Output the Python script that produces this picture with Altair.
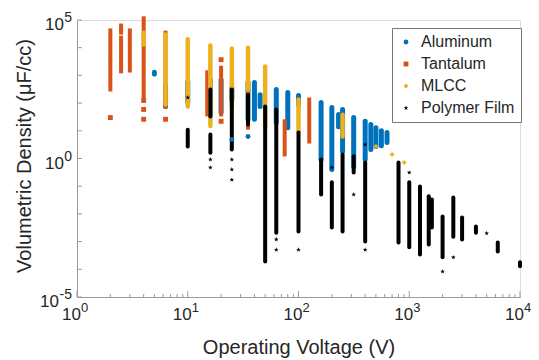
import altair as alt
import pandas as pd

SERIES = ["Aluminum", "Tantalum", "MLCC", "Polymer Film"]
COLORS = ["#0072BD", "#D95319", "#EDB120", "#000000"]
STAR = "M0,-1L0.24,-0.33L0.95,-0.31L0.38,0.12L0.59,0.81L0,0.4L-0.59,0.81L-0.38,0.12L-0.95,-0.31L-0.24,-0.33Z"
SHAPES = ["circle", "square", "diamond", STAR]

# ---- vertical clusters of points: voltage, lowest density, highest density ----
al_v  = [6.3, 10, 16, 20, 25, 35, 40, 45, 63, 80, 100, 160, 200, 230, 250, 315, 400, 450, 500, 560, 630]
al_lo = [75, 105, 39, 46, 135, 26, 26, 76, 20, 13, 89, 0.9, 0.4, 14, 1.8, 0.51, 0.92, 2.1, 2.7, 2.9, 3.8]
al_hi = [400, 600, 700, 700, 360, 550, 550, 200, 310, 240, 190, 105, 69, 39, 59, 30, 22, 17, 13, 10, 8.7]

ta_v  = [2, 2, 2.5, 2.5, 3, 4, 6.3, 15, 20, 35, 75, 125]
ta_lo = [4100, 310, 35000, 1400, 1500, 170, 75, 39, 39, 13, 1.4, 4.1]
ta_hi = [42000, 3200, 63000, 23000, 42000, 115000, 35000, 1300, 1900, 310, 22, 135]

ml_v  = [4, 6.3, 10, 16, 25, 35, 50, 100, 250]
ml_lo = [13000, 89, 75, 15, 75, 310, 14, 9.4, 6.2]
ml_hi = [35000, 30000, 20000, 12000, 9400, 10000, 2100, 135, 38]

pf_v  = [10, 16, 16, 25, 35, 50, 63, 100, 160, 200, 250, 315, 400, 800, 1000, 1250, 1500, 1600, 2000, 2500, 3000, 4000, 6300, 10000]
pf_lo = [2.7, 33, 1.6, 2.1, 17, 1.9e-4, 2.1e-3, 2.3e-3, 0.05, 3.2e-3, 2.3e-3, 0.31, 1.0e-3, 9.3e-4, 6.2e-4, 3.4e-4, 7.9e-4, 3.2e-3, 2.7e-4, 1.5e-3, 1.2e-3, 2.1e-3, 4.4e-4, 1.3e-4]
pf_hi = [11, 310, 7.4, 310, 200, 75, 59, 8.7, 0.92, 0.14, 1.4, 1.2, 0.72, 0.72, 0.14, 0.098, 0.043, 0.033, 8.1e-3, 0.039, 7.4e-3, 3.5e-3, 9.3e-4, 1.8e-4]

# ---- isolated points ----
al_pv = [5, 5, 25, 35]
al_pd = [1100, 1300, 4.9, 6.2]
ta_pv = [2, 4, 4, 4, 6.3, 20, 20]
ta_pd = [30, 124, 59, 26, 26, 3700, 22]
ml_pv = [500, 700, 900]
ml_pd = [2.7, 1.4, 0.72]
pf_pv = [10, 16, 16, 25, 25, 25, 63, 63, 100, 200, 315, 400, 400, 1000, 2000, 2500, 5000]
pf_pd = [160, 0.92, 0.47, 0.92, 0.40, 0.17, 1.2e-3, 5.1e-4, 5.1e-4, 0.47, 0.05, 3.2, 5.1e-4, 0.31, 8.3e-5, 2.7e-4, 2.0e-3]

# ---- axes ----
X_MAJOR = [1, 10, 100, 1000, 10000]
X_EXP = ["0", "1", "2", "3", "4"]
X_MINOR = [m * 10 ** e for e in range(4) for m in range(2, 10)]
Y_MAJOR = [10.0 ** e for e in range(-5, 6)]
Y_LABEL_VALUES = [1e-5, 1, 1e5]
Y_EXP = ["-5", "0", "5"]

W, H = 443, 277
FONT = "Liberation Sans"
AXC = "#9a9a9a"
TXT = "#262626"

xs = alt.Scale(type="log", domain=[1, 1e4])
ys = alt.Scale(type="log", domain=[1e-5, 1e5])

xax = alt.Axis(values=X_MAJOR, labels=False, ticks=False, grid=False,
               domainColor=AXC,
               title="Operating Voltage (V)", titleFont=FONT, titleFontSize=20,
               titleFontWeight="normal", titleColor=TXT, titleY=56,
               titleBaseline="alphabetic")
yax = alt.Axis(values=Y_LABEL_VALUES, labels=False, ticks=False, grid=False,
               domainColor=AXC,
               title="Volumetric Density (μF/cc)", titleFont=FONT, titleFontSize=20,
               titleFontWeight="normal", titleColor=TXT, titleX=-47, titleY=H / 2 - 3,
               titleAngle=270, titleAlign="center", titleBaseline="alphabetic")


def X(f="v"):
    return alt.X(f"{f}:Q", scale=xs, axis=xax)


def Y(f="d"):
    return alt.Y(f"{f}:Q", scale=ys, axis=yax)


def strips(v, lo, hi):
    return pd.DataFrame({"v": v, "d": lo, "d2": hi})


layers = []
# tick marks (inward)
layers.append(alt.Chart(pd.DataFrame({"v": X_MAJOR})).mark_rule(color=AXC, strokeWidth=1)
              .encode(x=X(), y=alt.value(H), y2=alt.value(H - 6)))
layers.append(alt.Chart(pd.DataFrame({"v": X_MINOR})).mark_rule(color=AXC, strokeWidth=1)
              .encode(x=X(), y=alt.value(H), y2=alt.value(H - 3)))
layers.append(alt.Chart(pd.DataFrame({"d": Y_MAJOR})).mark_rule(color=AXC, strokeWidth=1)
              .encode(y=Y(), x=alt.value(0), x2=alt.value(5)))

# tick labels: "10" with a raised exponent
xl = pd.DataFrame({"v": X_MAJOR, "e": X_EXP, "b": ["10"] * len(X_MAJOR)})
layers.append(alt.Chart(xl).mark_text(font=FONT, fontSize=17, color=TXT, align="right",
                                      baseline="alphabetic", dx=4)
              .encode(x=X(), y=alt.value(H + 23), text="b:N"))
layers.append(alt.Chart(xl).mark_text(font=FONT, fontSize=13, color=TXT, align="left",
                                      baseline="alphabetic", dx=4)
              .encode(x=X(), y=alt.value(H + 15), text="e:N"))

yl = pd.DataFrame({"d": Y_LABEL_VALUES, "e": Y_EXP, "b": ["10"] * len(Y_LABEL_VALUES)})
layers.append(alt.Chart(yl).mark_text(font=FONT, fontSize=14, color=TXT, align="right",
                                      baseline="alphabetic", dy=2)
              .encode(y=Y(), x=alt.value(-5), text="e:N"))
layers.append(alt.Chart(yl).transform_filter("length(datum.e) == 1")
              .mark_text(font=FONT, fontSize=17, color=TXT, align="right",
                         baseline="alphabetic", dy=10)
              .encode(y=Y(), x=alt.value(-13), text="b:N"))
layers.append(alt.Chart(yl).transform_filter("length(datum.e) > 1")
              .mark_text(font=FONT, fontSize=17, color=TXT, align="right",
                         baseline="alphabetic", dy=10)
              .encode(y=Y(), x=alt.value(-18), text="b:N"))

strip_specs = [
    (al_v, al_lo, al_hi, COLORS[0], 5, "round"),
    (ta_v, ta_lo, ta_hi, COLORS[1], 4, "square"),
    (ml_v, ml_lo, ml_hi, COLORS[2], 4.5, "round"),
    (pf_v, pf_lo, pf_hi, COLORS[3], 4, "round"),
]
for v, lo, hi, col, sw, cap in strip_specs:
    layers.append(alt.Chart(strips(v, lo, hi))
                  .mark_rule(color=col, strokeWidth=sw, strokeCap=cap)
                  .encode(x=X(), y=Y(), y2=alt.Y2("d2:Q")))

pts = pd.concat([
    pd.DataFrame({"v": al_pv, "d": al_pd, "series": SERIES[0], "o": 0}),
    pd.DataFrame({"v": ta_pv, "d": ta_pd, "series": SERIES[1], "o": 1}),
    pd.DataFrame({"v": ml_pv, "d": ml_pd, "series": SERIES[2], "o": 2}),
    pd.DataFrame({"v": pf_pv, "d": pf_pd, "series": SERIES[3], "o": 3}),
], ignore_index=True)

legend = alt.Legend(title=None, orient="none", legendX=315, legendY=8,
                    strokeColor="#777777", fillColor="white", padding=6,
                    labelFont=FONT, labelFontSize=16, labelColor=TXT,
                    symbolSize=24, rowPadding=6, labelOffset=7)

layers.append(alt.Chart(pts).mark_point(filled=True, size=24, opacity=1)
              .encode(x=X(), y=Y(),
                      color=alt.Color("series:N", scale=alt.Scale(domain=SERIES, range=COLORS), legend=legend),
                      shape=alt.Shape("series:N", scale=alt.Scale(domain=SERIES, range=SHAPES), legend=legend),
                      order=alt.Order("o:Q")))

chart = (alt.layer(*layers)
         .properties(width=W, height=H,
                     autosize=alt.AutoSizeParams(type="none"),
                     padding={"left": 69, "top": 12, "right": 11, "bottom": 63})
         .configure_view(stroke=None)
         .configure(background="white"))

chart.save("out.html", embed_options={"renderer": "svg", "actions": False})
